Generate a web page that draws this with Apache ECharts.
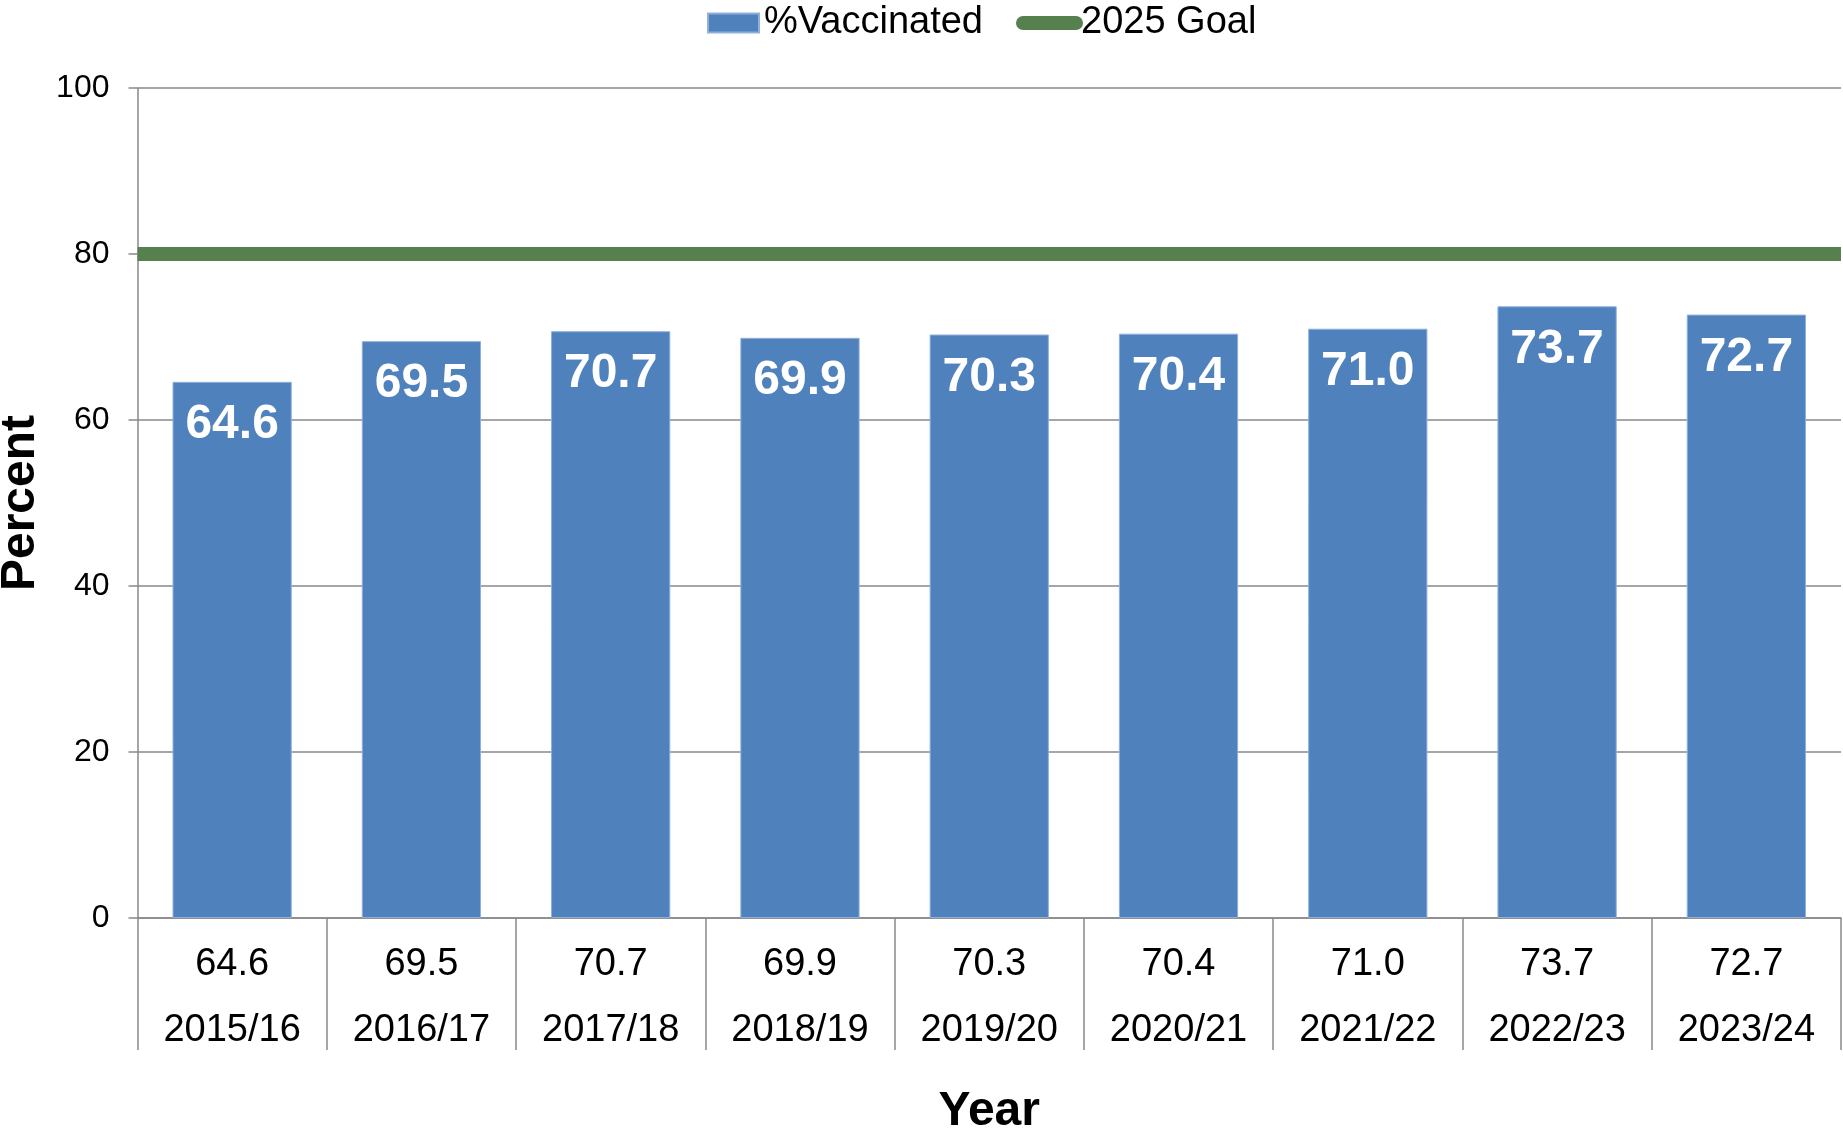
<!DOCTYPE html>
<html>
<head>
<meta charset="utf-8">
<script src="https://cdn.jsdelivr.net/npm/echarts@6/dist/echarts.min.js"></script>
<style>
html,body{margin:0;padding:0;background:#fff;}
#chart{width:1843px;height:1128px;}
</style>
</head>
<body>
<div id="chart"></div>
<script>
const categories = ['2015/16','2016/17','2017/18','2018/19','2019/20','2020/21','2021/22','2022/23','2023/24'];
const vaccinated = [64.6, 69.5, 70.7, 69.9, 70.3, 70.4, 71.0, 73.7, 72.7];
const goalValue = 80;
const seriesNames = ['%Vaccinated', '2025 Goal'];

const FONT = '"Liberation Sans", Arial, Helvetica, sans-serif';
const GRAY = '#898989';
const BLUE = '#4F81BD';
const GREEN = '#57804F';

const chart = echarts.init(document.getElementById('chart'));
chart.setOption({
  animation: false,
  textStyle: { fontFamily: FONT },
  grid: { left: 137.5, right: 2, top: 88, bottom: 210, containLabel: false, outerBoundsMode: 'none' },
  legend: [
    {
      data: [{ name: seriesNames[0], icon: 'rect' }],
      left: 707, top: 3, padding: 0,
      itemWidth: 51, itemHeight: 19,
      textStyle: { fontSize: 38, color: '#000', fontFamily: FONT, lineHeight: 40 }
    },
    {
      data: [{ name: seriesNames[1], icon: 'path://M7,0 L60,0 A7,7 0 0 1 60,14 L7,14 A7,7 0 0 1 7,0 Z', itemStyle: { color: GREEN } }],
      left: 1016, top: 3, padding: 0,
      itemWidth: 67, itemHeight: 14,
      textStyle: { fontSize: 38, color: '#000', fontFamily: FONT, lineHeight: 40, padding: [0, 0, 0, -7] }
    }
  ],
  xAxis: {
    type: 'category',
    data: categories,
    boundaryGap: true,
    name: 'Year',
    nameLocation: 'middle',
    nameGap: 170,
    nameTextStyle: { fontSize: 48, fontWeight: 'bold', color: '#000', fontFamily: FONT, lineHeight: 48 },
    axisLine: { show: true, lineStyle: { color: GRAY, width: 1.5 } },
    axisTick: { show: true, interval: 0, length: 132, lineStyle: { color: GRAY, width: 1.5 } },
    axisLabel: {
      interval: 0,
      margin: 14,
      fontSize: 38,
      lineHeight: 66,
      color: '#000',
      fontFamily: FONT,
      formatter: function (val, idx) { return vaccinated[idx].toFixed(1) + '\n' + val; }
    }
  },
  yAxis: {
    type: 'value',
    min: 0, max: 100, interval: 20,
    name: 'Percent',
    nameLocation: 'middle',
    nameGap: 90,
    nameTextStyle: { fontSize: 48, fontWeight: 'bold', color: '#000', fontFamily: FONT, lineHeight: 48 },
    axisLine: { show: true, lineStyle: { color: GRAY, width: 1.5 } },
    axisTick: { show: true, length: 9, inside: false, lineStyle: { color: GRAY, width: 1.5 } },
    axisLabel: { fontSize: 32, color: '#000', margin: 28, fontFamily: FONT },
    splitLine: { show: true, lineStyle: { color: GRAY, width: 1.5 } }
  },
  series: [
    {
      name: seriesNames[0],
      type: 'bar',
      data: vaccinated,
      barCategoryGap: '37%',
      itemStyle: { color: BLUE, borderColor: '#8fb0dc', borderWidth: 1 },
      label: {
        show: true,
        position: 'insideTop',
        distance: 19,
        color: '#fff',
        fontSize: 48,
        fontWeight: 'bold',
        lineHeight: 48,
        fontFamily: FONT,
        formatter: function (p) { return p.value.toFixed(1); }
      },
      z: 2
    },
    {
      name: seriesNames[1],
      type: 'line',
      data: [],
      itemStyle: { color: GREEN },
      lineStyle: { color: GREEN, width: 14 },
      markLine: {
        silent: true,
        symbol: ['none', 'none'],
        label: { show: false },
        lineStyle: { color: GREEN, width: 14, type: 'solid' },
        data: [{ yAxis: goalValue }]
      },
      z: 3
    }
  ]
});
</script>
</body>
</html>
